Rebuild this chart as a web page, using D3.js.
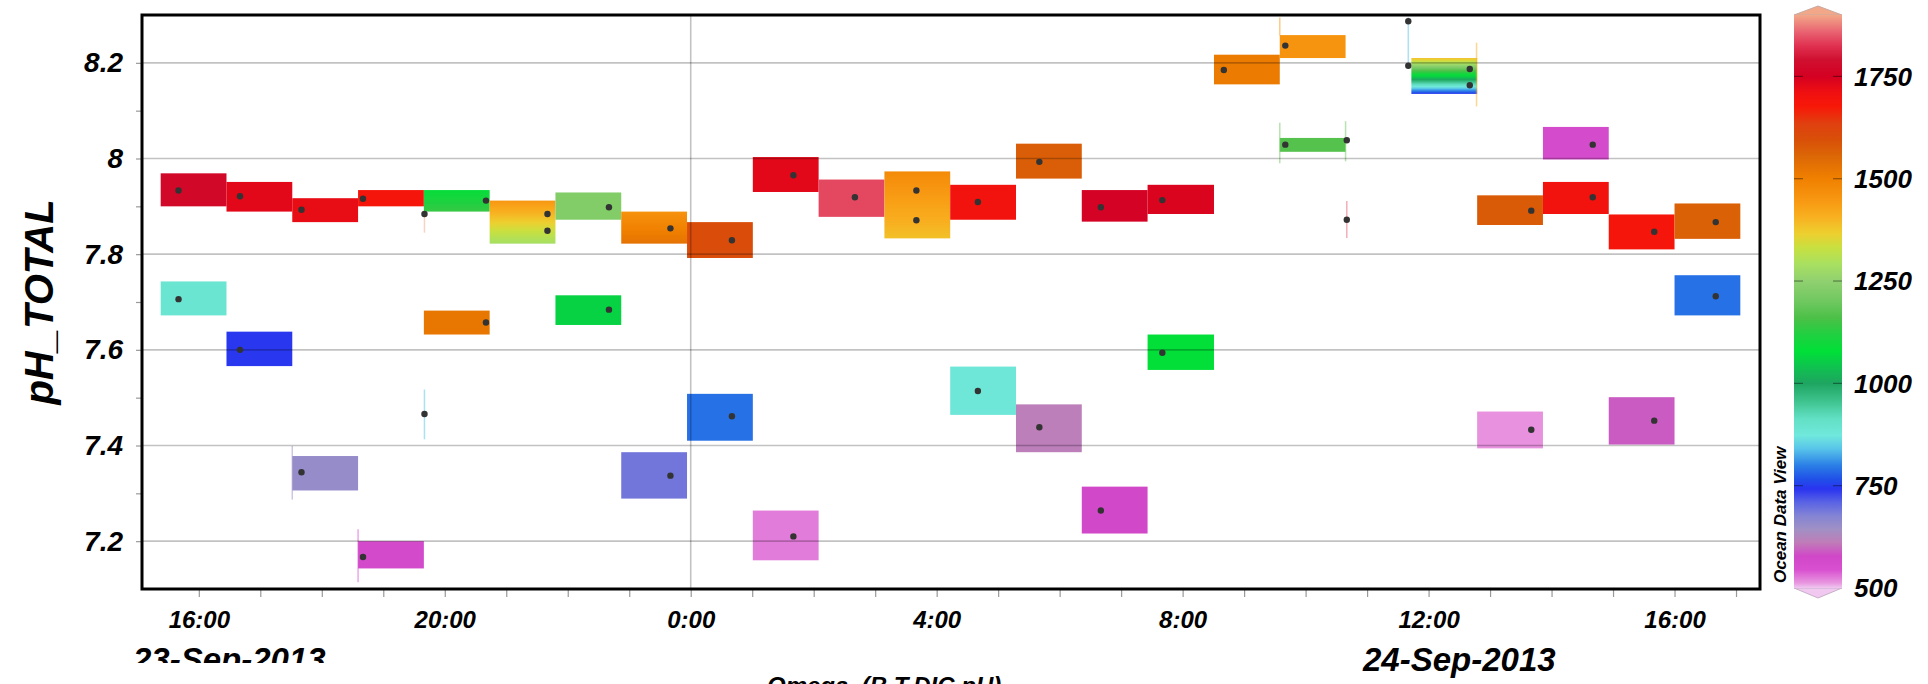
<!DOCTYPE html>
<html>
<head>
<meta charset="utf-8">
<script src="https://cdn.jsdelivr.net/npm/d3@7"></script>
<style>
  body { margin: 0; background: #fff; }
  svg { display: block; font-family: "Liberation Sans", Arial, sans-serif; }
</style>
</head>
<body>
<script>
// Chart size and plot frame
const width = 1928;
const height = 684;
const plot = { left: 142, right: 1760, top: 15, bottom: 589 };

// Time is counted in hours from 23-Sep-2013 00:00
const xDomain = [15.076, 41.39];
const yDomain = [7.1, 8.3];

// Axis ticks
const xMajorHours = [16, 20, 24, 28, 32, 36, 40];
const xMajorLabels = ["16:00", "20:00", "0:00", "4:00", "8:00", "12:00", "16:00"];
const xMinorHours = [16, 17, 18, 19, 20, 21, 22, 23, 24, 25, 26, 27, 28, 29, 30, 31, 32, 33, 34, 35, 36, 37, 38, 39, 40, 41];
const yMajorTicks = [7.2, 7.4, 7.6, 7.8, 8, 8.2];
const yMajorLabels = ["7.2", "7.4", "7.6", "7.8", "8", "8.2"];
const yMinorTicks = [7.3, 7.5, 7.7, 7.9, 8.1];
const gridHours = [24];

// Coloured cells: start / end time, pH top / bottom, colour value at top / bottom
const cellT0 = [15.38, 15.38, 16.45, 16.45, 17.52, 17.52, 18.59, 18.59, 19.66, 19.66, 20.73, 21.80, 21.80, 22.87, 22.87, 23.94, 23.94, 25.01, 25.01, 26.08, 27.15, 28.22, 28.22, 29.29, 29.29, 30.36, 30.36, 31.43, 31.43, 32.51, 33.58, 33.58, 35.72, 36.79, 36.79, 37.86, 37.86, 38.93, 38.93, 40.00, 40.00];
const cellT1 = [16.45, 16.45, 17.52, 17.52, 18.59, 18.59, 19.66, 19.66, 20.73, 20.73, 21.80, 22.87, 22.87, 23.94, 23.94, 25.01, 25.01, 26.08, 26.08, 27.15, 28.22, 29.29, 29.29, 30.36, 30.36, 31.43, 31.43, 32.51, 32.51, 33.58, 34.65, 34.65, 36.79, 37.86, 37.86, 38.93, 38.93, 40.00, 40.00, 41.07, 41.07];
const cellTop = [7.969, 7.743, 7.951, 7.638, 7.917, 7.378, 7.934, 7.200, 7.934, 7.682, 7.912, 7.929, 7.714, 7.889, 7.386, 7.867, 7.508, 8.003, 7.264, 7.956, 7.973, 7.945, 7.565, 8.031, 7.486, 7.934, 7.314, 7.945, 7.632, 8.217, 8.258, 8.043, 8.210, 7.923, 7.471, 7.951, 8.066, 7.883, 7.501, 7.906, 7.756];
const cellBottom = [7.900, 7.672, 7.889, 7.566, 7.867, 7.306, 7.900, 7.143, 7.889, 7.632, 7.822, 7.872, 7.652, 7.822, 7.289, 7.792, 7.410, 7.930, 7.160, 7.878, 7.833, 7.872, 7.464, 7.958, 7.386, 7.868, 7.216, 7.884, 7.558, 8.155, 8.210, 8.014, 8.135, 7.861, 7.394, 7.884, 7.998, 7.810, 7.402, 7.832, 7.672];
const cellValueTop = [1770, 890, 1730, 745, 1720, 655, 1690, 565, 1085, 1520, 1450, 1230, 1060, 1460, 690, 1605, 790, 1730, 525, 1840, 1475, 1700, 880, 1570, 615, 1755, 575, 1740, 1080, 1510, 1455, 1170, 1390, 1575, 515, 1700, 560, 1690, 590, 1565, 790];
const cellValueBottom = [1770, 890, 1730, 745, 1720, 655, 1690, 565, 1140, 1520, 1285, 1230, 1060, 1530, 690, 1605, 790, 1730, 525, 1840, 1385, 1700, 880, 1570, 615, 1755, 575, 1740, 1080, 1510, 1455, 1170, 745, 1575, 515, 1700, 560, 1690, 590, 1565, 790];

// Samples (black dots)
const dotTime = [15.67, 15.67, 16.67, 16.67, 17.67, 17.67, 18.67, 18.67, 19.67, 19.67, 20.67, 20.67, 21.67, 21.67, 22.67, 22.67, 23.67, 23.67, 24.67, 24.67, 25.67, 25.67, 26.67, 27.67, 27.67, 28.67, 28.67, 29.67, 29.67, 30.67, 30.67, 31.67, 31.67, 32.67, 33.67, 33.67, 34.67, 34.67, 35.67, 35.67, 36.67, 36.67, 37.67, 37.67, 38.67, 38.67, 39.67, 39.67, 40.67, 40.67];
const dotPH = [7.933, 7.706, 7.921, 7.600, 7.893, 7.344, 7.916, 7.167, 7.884, 7.466, 7.912, 7.657, 7.884, 7.849, 7.898, 7.684, 7.854, 7.337, 7.829, 7.461, 7.965, 7.210, 7.919, 7.933, 7.871, 7.909, 7.514, 7.993, 7.438, 7.898, 7.264, 7.913, 7.594, 8.185, 8.236, 8.029, 8.038, 7.872, 8.287, 8.194, 8.187, 8.153, 7.891, 7.433, 7.919, 8.029, 7.847, 7.452, 7.867, 7.712];

// Thin faint cells
const stemTime = [19.67, 19.67, 34.67, 35.67, 36.78, 18.59, 17.52, 33.58, 33.58, 34.65];
const stemHigh = [7.517, 7.889, 7.911, 8.295, 8.242, 7.225, 7.399, 8.295, 8.075, 8.078];
const stemLow = [7.413, 7.845, 7.834, 8.190, 8.109, 7.114, 7.287, 8.257, 7.990, 7.994];
const stemValue = [840, 1900, 1857, 840, 1406, 545, 643, 1447, 1201, 1201];

// Colour bar
const cbDomain = [500, 1900];
const cbTicks = [500, 750, 1000, 1250, 1500, 1750];
const paletteValues = [500, 512, 545, 578, 611, 643, 676, 709, 742, 766, 799, 840, 873, 914, 955, 1000, 1037, 1078, 1119, 1160, 1201, 1250, 1291, 1332, 1365, 1406, 1447, 1500, 1553, 1594, 1635, 1676, 1709, 1750, 1791, 1824, 1857, 1900];
const paletteColors = ["#f0c8f0", "#e898e0", "#d850d0", "#d048c8", "#c07cb8", "#a090c4", "#8484d4", "#5a64e4", "#2a34f0", "#2050e8", "#2a7ee6", "#58c4ea", "#70e8dc", "#62e0c4", "#40c490", "#1ea560", "#10c050", "#00e038", "#20d040", "#4cc048", "#70c860", "#90d070", "#a8e060", "#c8e040", "#ecd030", "#f8b020", "#f89812", "#f08000", "#dc6806", "#d85008", "#e04010", "#f81808", "#f01010", "#d40022", "#d01030", "#e03050", "#e86070", "#f2a888"];

const x = d3.scaleLinear().domain(xDomain).range([plot.left, plot.right]);
const y = d3.scaleLinear().domain(yDomain).range([plot.bottom, plot.top]);
const color = d3.scaleLinear().domain(paletteValues).range(paletteColors).clamp(true);

const svg = d3.select("body").append("svg")
  .attr("width", width)
  .attr("height", height)
  .attr("viewBox", [0, 0, width, height]);

const defs = svg.append("defs");

// cells
const cells = cellT0.map((t0, i) => ({
  t0, t1: cellT1[i], top: cellTop[i], bottom: cellBottom[i],
  v0: cellValueTop[i], v1: cellValueBottom[i]
}));

cells.forEach((d, i) => {
  if (d.v0 !== d.v1) {
    const g = defs.append("linearGradient").attr("id", "cell" + i)
      .attr("x1", 0).attr("y1", 0).attr("x2", 0).attr("y2", 1);
    d3.range(0, 1.0001, 0.05).forEach(k => {
      g.append("stop").attr("offset", k).attr("stop-color", color(d.v0 + (d.v1 - d.v0) * k));
    });
  }
});

svg.append("g")
  .selectAll("rect")
  .data(cells)
  .join("rect")
  .attr("x", d => x(d.t0))
  .attr("y", d => y(d.top))
  .attr("width", d => x(d.t1) - x(d.t0))
  .attr("height", d => y(d.bottom) - y(d.top))
  .attr("fill", (d, i) => d.v0 === d.v1 ? color(d.v0) : `url(#cell${i})`);

// faint stems
svg.append("g")
  .selectAll("line")
  .data(stemTime)
  .join("line")
  .attr("x1", d => x(d)).attr("x2", d => x(d))
  .attr("y1", (d, i) => y(stemHigh[i]))
  .attr("y2", (d, i) => y(stemLow[i]))
  .attr("stroke", (d, i) => color(stemValue[i]))
  .attr("stroke-opacity", 0.5)
  .attr("stroke-width", 1.5);

// grid lines (drawn over cells, semi transparent)
const grid = svg.append("g").attr("stroke", "#000").attr("stroke-opacity", 0.24).attr("stroke-width", 1.6);
grid.selectAll(".h").data(yMajorTicks).join("line").attr("class", "h")
  .attr("x1", plot.left).attr("x2", plot.right)
  .attr("y1", d => y(d)).attr("y2", d => y(d));
grid.selectAll(".v").data(gridHours).join("line").attr("class", "v")
  .attr("x1", d => x(d)).attr("x2", d => x(d))
  .attr("y1", plot.top).attr("y2", plot.bottom);

// dots
svg.append("g")
  .selectAll("circle")
  .data(dotTime)
  .join("circle")
  .attr("cx", d => x(d))
  .attr("cy", (d, i) => y(dotPH[i]))
  .attr("r", 3.2)
  .attr("fill", "#333");

// axes
const xAxis = svg.append("g")
  .attr("transform", `translate(0,${plot.bottom})`)
  .call(d3.axisBottom(x).tickValues(xMinorHours).tickSize(8).tickPadding(14)
    .tickFormat(h => {
      const k = xMajorHours.indexOf(h);
      return k >= 0 ? xMajorLabels[k] : "";
    }));
xAxis.select(".domain").remove();
xAxis.selectAll("line").attr("stroke", "#999").attr("stroke-width", 1.2);
xAxis.selectAll("text")
  .attr("fill", "#000")
  .style("font-size", "24px").style("font-weight", "bold").style("font-style", "italic");

const yAxis = svg.append("g")
  .attr("transform", `translate(${plot.left},0)`)
  .call(d3.axisLeft(y).tickValues(yMajorTicks.concat(yMinorTicks)).tickSize(6).tickPadding(13)
    .tickFormat(v => {
      const k = yMajorTicks.indexOf(v);
      return k >= 0 ? yMajorLabels[k] : "";
    }));
yAxis.select(".domain").remove();
yAxis.selectAll("line").attr("stroke", "#999").attr("stroke-width", 1.2);
yAxis.selectAll("text")
  .attr("fill", "#000")
  .style("font-size", "28px").style("font-weight", "bold").style("font-style", "italic");

// frame
svg.append("rect")
  .attr("x", plot.left).attr("y", plot.top)
  .attr("width", plot.right - plot.left).attr("height", plot.bottom - plot.top)
  .attr("fill", "none").attr("stroke", "#000").attr("stroke-width", 3);

// axis titles
svg.append("text")
  .attr("transform", `translate(53,${(plot.top + plot.bottom) / 2}) rotate(-90)`)
  .attr("text-anchor", "middle")
  .style("font-size", "40px").style("font-weight", "bold").style("font-style", "italic")
  .text("pH_TOTAL");

defs.append("clipPath").attr("id", "dateClip")
  .append("rect").attr("x", 0).attr("y", 0).attr("width", width).attr("height", 663);

svg.append("text")
  .attr("x", 133).attr("y", 671)
  .attr("clip-path", "url(#dateClip)")
  .style("font-size", "33px").style("font-weight", "bold").style("font-style", "italic")
  .text("23-Sep-2013");

svg.append("text")
  .attr("x", 1363).attr("y", 671)
  .style("font-size", "33px").style("font-weight", "bold").style("font-style", "italic")
  .text("24-Sep-2013");

svg.append("text")
  .attr("x", 767).attr("y", 694)
  .style("font-size", "24px").style("font-weight", "bold").style("font-style", "italic")
  .text("Omega_(B,T,DIC,pH)");

// colour bar
const cb = { left: 1794, right: 1842 };
const cy = d3.scaleLinear().domain(cbDomain).range([588, 15]);

const cbGrad = defs.append("linearGradient").attr("id", "cbGrad")
  .attr("x1", 0).attr("y1", 1).attr("x2", 0).attr("y2", 0);
paletteValues.forEach((v, i) => {
  cbGrad.append("stop")
    .attr("offset", (v - cbDomain[0]) / (cbDomain[1] - cbDomain[0]))
    .attr("stop-color", paletteColors[i]);
});

const cbg = svg.append("g");
cbg.append("path")
  .attr("d", `M${cb.left},${cy(1900)} L${(cb.left + cb.right) / 2},${cy(1900) - 9} L${cb.right},${cy(1900)} Z`)
  .attr("fill", color(1900)).attr("stroke", "#c8a8a0").attr("stroke-width", 1);
cbg.append("path")
  .attr("d", `M${cb.left},${cy(500)} L${(cb.left + cb.right) / 2},${cy(500) + 10} L${cb.right},${cy(500)} Z`)
  .attr("fill", color(500)).attr("stroke", "#c8b0c8").attr("stroke-width", 1);
cbg.append("rect")
  .attr("x", cb.left).attr("y", cy(1900))
  .attr("width", cb.right - cb.left).attr("height", cy(500) - cy(1900))
  .attr("fill", "url(#cbGrad)");

cbg.selectAll(".tl").data(cbTicks.slice(1)).join("line").attr("class", "tl")
  .attr("x1", cb.left).attr("x2", cb.left + 9)
  .attr("y1", d => cy(d)).attr("y2", d => cy(d))
  .attr("stroke", "#000").attr("stroke-opacity", 0.4).attr("stroke-width", 1.2);
cbg.selectAll(".tr").data(cbTicks.slice(1)).join("line").attr("class", "tr")
  .attr("x1", cb.right - 9).attr("x2", cb.right)
  .attr("y1", d => cy(d)).attr("y2", d => cy(d))
  .attr("stroke", "#000").attr("stroke-opacity", 0.4).attr("stroke-width", 1.2);

cbg.selectAll(".lab").data(cbTicks).join("text").attr("class", "lab")
  .attr("x", 1854).attr("y", d => cy(d)).attr("dy", "0.36em")
  .style("font-size", "26px").style("font-weight", "bold").style("font-style", "italic")
  .text(d => d);

svg.append("text")
  .attr("transform", "translate(1786,583) rotate(-90)")
  .style("font-size", "17px").style("font-weight", "bold").style("font-style", "italic")
  .text("Ocean Data View");
</script>
</body>
</html>
